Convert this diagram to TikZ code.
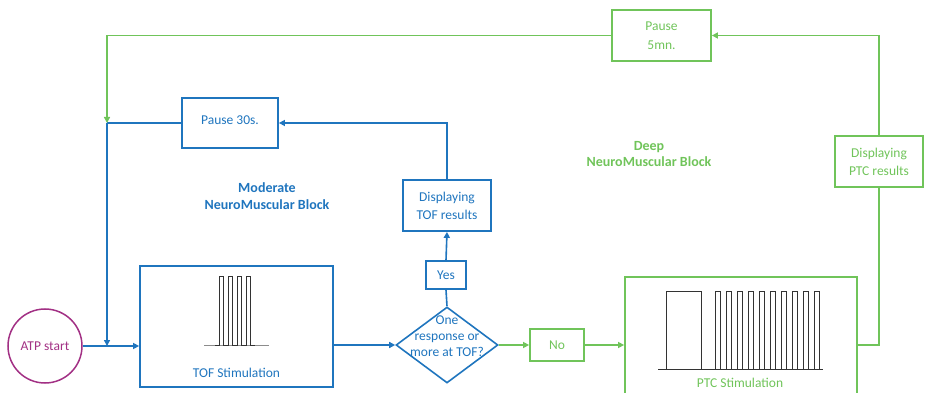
\documentclass[tikz,border=0pt]{standalone}
\usepackage{fontspec}
\setmainfont{Carlito}
\usetikzlibrary{arrows.meta,shapes.geometric}
\definecolor{cblue}{RGB}{31,117,190}
\definecolor{cgreen}{RGB}{112,196,90}
\definecolor{cpurple}{RGB}{162,48,132}
\begin{document}
\begin{tikzpicture}[x=1pt,y=-1pt,
  every node/.style={font=\fontsize{13.5}{18}\selectfont},
  bbox/.style={draw=cblue, line width=1.8pt, text=cblue, inner sep=0pt, align=center},
  gbox/.style={draw=cgreen, line width=1.8pt, text=cgreen, inner sep=0pt, align=center},
  bline/.style={draw=cblue, line width=1.6pt},
  gline/.style={draw=cgreen, line width=1.6pt},
  arr/.style={-{Triangle[length=6pt,width=6pt]}},
  pulse/.style={draw=black!80, line width=1pt}]
\useasboundingbox (0,0) rectangle (930,393);

% nodes
\node[circle, draw=cpurple, line width=1.5pt, minimum size=74pt, inner sep=0pt, text=cpurple] (atp) at (45,346) {ATP start};
\node[bbox, minimum width=193pt, minimum height=121pt] (tof) at (236.5,326.5) {};
\node[text=cblue] (toflab) at (236.5,373) {TOF Stimulation};
\node[diamond, draw=cblue, line width=1.6pt, minimum width=102pt, minimum height=76pt, inner sep=0pt] (dec) at (447,345) {};
\node[text=cblue, align=center, font=\fontsize{13.5}{16}\selectfont] (dectxt) at (447,336) {One\\response or\\more at TOF?};
\node[bbox, minimum width=40pt, minimum height=28pt] (yes) at (446,275) {Yes};
\node[bbox, minimum width=88pt, minimum height=51pt] (dtof) at (447,205.5) {Displaying\\TOF results};
\node[bbox, minimum width=96pt, minimum height=50pt] (p30) at (230,123) {\raisebox{6pt}{Pause 30s.}};
\node[text=cblue, align=center, font=\bfseries\fontsize{14}{17}\selectfont] (modlab) at (267,196.5) {Moderate\\NeuroMuscular Block};

\node[gbox, minimum width=54pt, minimum height=32pt] (no) at (557,345) {No};
\node[gbox, minimum width=232pt, minimum height=130pt] (ptc) at (741,342) {};
\node[text=cgreen] (ptclab) at (740,383) {PTC Stimulation};
\node[gbox, minimum width=88pt, minimum height=51pt] (dptc) at (879,161.5) {Displaying\\PTC results};
\node[gbox, minimum width=99pt, minimum height=51pt, font=\fontsize{13.5}{19}\selectfont] (p5) at (661.5,35.5) {Pause\\5mn.};
\node[text=cgreen, align=center, font=\bfseries\fontsize{14}{16}\selectfont] (deeplab) at (649,154) {Deep\\NeuroMuscular Block};

\coordinate (j1) at (107,346);
\coordinate (j2) at (107,123);

% blue connectors
\draw[bline,arr] (atp.east) -- (tof.west |- atp.east);
\draw[bline] (p30.west) -- (j2);
\draw[bline,arr] (j2) -- (j1);
\draw[bline,arr] (tof.east |- dec) -- (dec.west);
\draw[bline] (dec.north) -- (yes.south);
\draw[bline,arr] (yes.north) -- (dtof.south);
\draw[bline,arr] (dtof.north) |- (p30.east);

% green connectors
\draw[gline,arr] (dec.east) -- (no.west);
\draw[gline,arr] (no.east) -- (no.east -| ptc.west);
\draw[gline] (ptc.east |- no.east) -| (dptc.south);
\draw[gline,arr] (dptc.north) |- (p5.east);
\draw[gline,arr] (p5.west) -| (j2);

% TOF pulses
\draw[draw=black!45, line width=0.9pt] (204,345) -- (269,345);
\draw[pulse] (215,345) foreach \i in {0,...,3}{ -- ({219.3+9.1*\i},345) -- ({219.3+9.1*\i},276) -- ({223.3+9.1*\i},276) -- ({223.3+9.1*\i},345)} -- (255,345);

% PTC pulses
\draw[pulse] (658,369) -- (823,369);
\draw[pulse] (666,369) -- (666,291) -- (701,291) -- (701,369);
\foreach \k in {0,...,9}{
  \draw[pulse] ({715.3+11*\k},369) -- ({715.3+11*\k},291) -- ({720.6+11*\k},291) -- ({720.6+11*\k},369);
}
\end{tikzpicture}
\end{document}
